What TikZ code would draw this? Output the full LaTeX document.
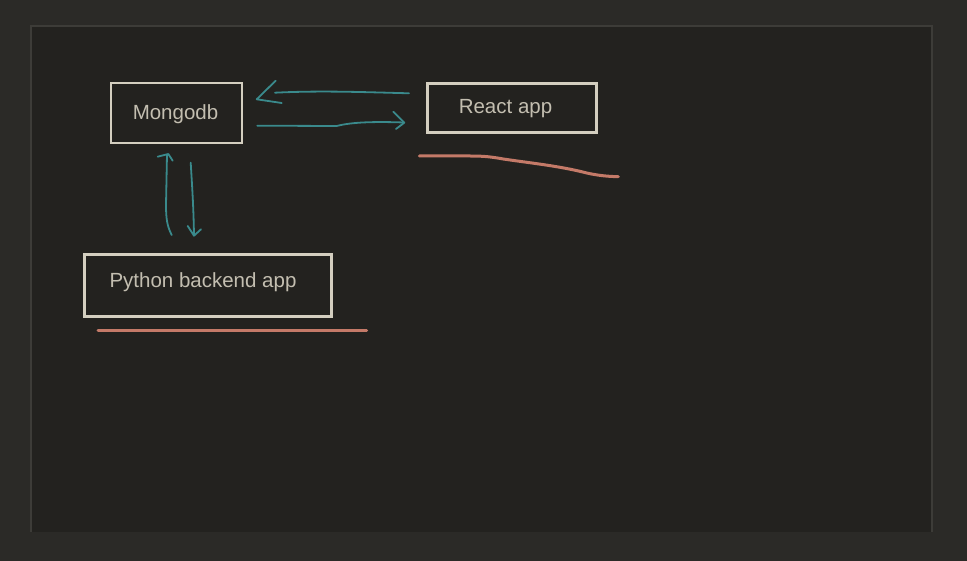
\documentclass[tikz,border=0pt]{standalone}
\usepackage{fontspec}
\setmainfont{Liberation Sans}
\definecolor{outerbg}{HTML}{2B2A27}
\definecolor{panelbg}{HTML}{23221F}
\definecolor{panelline}{HTML}{3D3C38}
\definecolor{boxline}{HTML}{D4CFC0}
\definecolor{boxtext}{HTML}{C3BEB0}
\definecolor{tealpen}{HTML}{3A8A8C}
\definecolor{salmon}{HTML}{C47A68}
\begin{document}
\begin{tikzpicture}[x=1pt,y=-1pt,
  box/.style={draw=boxline,line width=2.6pt,rectangle,inner sep=0pt},
  lbl/.style={text=boxtext,font=\fontsize{20.5}{24}\selectfont,anchor=base,inner sep=0pt},
  pen/.style={draw=tealpen,line width=1.8pt,line cap=round,line join=round},
  underl/.style={draw=salmon,line width=3pt,line cap=round,line join=round}]
\useasboundingbox (0,0) rectangle (967,561);
\fill[outerbg] (0,0) rectangle (967,561);
\fill[panelbg] (31,26) rectangle (932,532);
\draw[panelline,line width=2pt] (31,532) -- (31,26) -- (932,26) -- (932,532);

\node[box,minimum width=131pt,minimum height=60pt] (mongo) at (176.5,113) {};
\node[box,minimum width=169pt,minimum height=49pt] (react) at (512,108) {};
\node[box,minimum width=247pt,minimum height=62pt] (python) at (208,285.5) {};

\node[lbl] (mongot) at (175.5,120) {Mongodb};
\node[lbl] (reactt) at (505.5,114) {React app};
\node[lbl] (pythont) at (203,287.3) {Python backend app};

% React -> Mongodb
\coordinate (a1s) at (409,93.3);
\coordinate (a1e) at (275,92.7);
\draw[pen] (a1s) .. controls (360,92) and (320,90.5) .. (a1e);
\draw[pen] (275.7,80.7) -- (256.7,99.3) -- (281.7,103);
% Mongodb -> React
\coordinate (a2s) at (257.3,125.7);
\coordinate (a2e) at (404,122.5);
\draw[pen] (a2s) -- (336.7,126) .. controls (352,122) and (375,121.5) .. (a2e);
\draw[pen] (393.3,111.7) -- (404.3,122.7) -- (396,129);
% Python -> Mongodb
\coordinate (a3s) at (171.7,235);
\coordinate (a3e) at (167,154.5);
\draw[pen] (a3s) .. controls (167,226) and (166,218) .. (166,205) -- (a3e);
\draw[pen] (157.7,156.7) -- (168.3,154) -- (172.7,160.7);
% Mongodb -> Python
\coordinate (a4s) at (190.7,162.7);
\coordinate (a4e) at (194,235.5);
\draw[pen] (a4s) .. controls (192,185) and (193.5,205) .. (a4e);
\draw[pen] (187.7,226) -- (194,235.7) -- (201,229.3);

% underlines
\draw[underl] (419.3,156) -- (470,156) .. controls (485,156) and (492,157) .. (503.3,159)
  .. controls (530,163) and (560,166) .. (586.7,173) .. controls (598,175.5) and (608,176.5) .. (618.3,176.7);
\draw[underl] (98,331) -- (366.7,331);
\end{tikzpicture}
\end{document}
